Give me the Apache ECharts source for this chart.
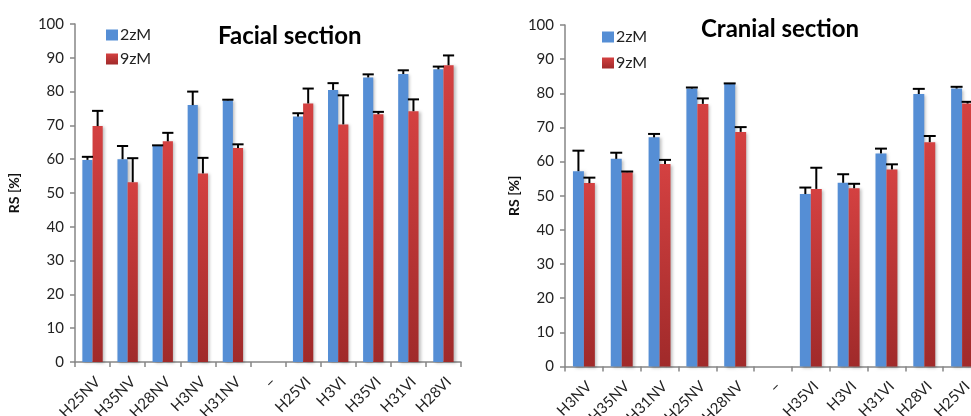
<!DOCTYPE html>
<html>
<head>
<meta charset="utf-8">
<style>
  html, body { margin: 0; padding: 0; background: #fff; overflow: hidden; }
  #chart { width: 1000px; height: 416px; }
</style>
<script src="https://cdn.jsdelivr.net/npm/echarts@6/dist/echarts.min.js"></script>
</head>
<body>
<div id="chart"></div>
<script>
// Facial section: categories, means and upper error (SD) per series
const facialCats = ['H25NV', 'H35NV', 'H28NV', 'H3NV', 'H31NV', '–', 'H25VI', 'H3VI', 'H35VI', 'H31VI', 'H28VI'];
const facial2zM = [59.8, 60.0, 63.9, 76.0, 77.4, null, 72.6, 80.5, 84.2, 85.2, 86.6];
const facial2zMErr = [0.9, 3.9, 0.2, 4.0, 0.2, null, 1.0, 2.0, 0.9, 1.1, 0.8];
const facial9zM = [69.8, 53.2, 65.3, 55.8, 63.3, null, 76.5, 70.3, 73.3, 74.2, 87.8];
const facial9zMErr = [4.5, 7.1, 2.5, 4.6, 1.1, null, 4.4, 8.6, 0.7, 3.5, 2.9];

// Cranial section
const cranialCats = ['H3NV', 'H35NV', 'H31NV', 'H25NV', 'H28NV', '–', 'H35VI', 'H3VI', 'H31VI', 'H28VI', 'H25VI'];
const cranial2zM = [57.2, 60.8, 67.1, 81.4, 82.7, null, 50.5, 53.8, 62.4, 79.8, 81.4];
const cranial2zMErr = [6.0, 1.8, 1.0, 0.3, 0.2, null, 1.9, 2.5, 1.4, 1.5, 0.5];
const cranial9zM = [53.7, 56.9, 59.3, 76.9, 68.7, null, 52.0, 52.2, 57.7, 65.7, 77.0];
const cranial9zMErr = [1.6, 0.2, 1.2, 1.6, 1.4, null, 6.2, 1.3, 1.5, 1.8, 0.5];

const yTicks = { min: 0, max: 100, interval: 10 };

const FONT = 'Lato';
const BAR_FRAC = 0.29; // bar width as a share of the category band
const blue = '#558ED5';
const red = new echarts.graphic.LinearGradient(0, 0, 0, 1, [
  { offset: 0, color: '#D44141' },
  { offset: 1, color: '#A02A2A' }
]);
const barShadow = { shadowBlur: 3, shadowOffsetX: 2, shadowOffsetY: 1, shadowColor: 'rgba(0,0,0,0.25)' };

function barSeries(name, values, color, axisIdx) {
  return {
    name: name, type: 'bar', data: values,
    xAxisIndex: axisIdx, yAxisIndex: axisIdx,
    barGap: '0%', barCategoryGap: '42%',
    itemStyle: Object.assign({ color: color }, barShadow),
    z: 2
  };
}

function errorSeries(values, errs, side, axisIdx) {
  const data = values.map((v, i) => (v == null ? null : [i, v, errs[i]])).filter(d => d);
  return {
    name: 'sd', type: 'custom', xAxisIndex: axisIdx, yAxisIndex: axisIdx, z: 3,
    data: data,
    renderItem: function (params, api) {
      const i = api.value(0), v = api.value(1), e = api.value(2);
      const base = api.coord([i, v]);
      const top = api.coord([i, v + e]);
      const band = api.size([1, 0])[0];
      const bw = band * BAR_FRAC;
      const cx = base[0] + side * bw / 2;
      const half = bw / 2 + 0.5;
      const style = { stroke: '#000', lineWidth: 2 };
      return {
        type: 'group',
        children: [
          { type: 'line', shape: { x1: cx, y1: base[1], x2: cx, y2: top[1] }, style: style },
          { type: 'line', shape: { x1: cx - half, y1: top[1], x2: cx + half, y2: top[1] }, style: style }
        ]
      };
    }
  };
}

function xAxis(cats, gridIdx) {
  return {
    type: 'category', gridIndex: gridIdx, data: cats,
    axisLine: { lineStyle: { color: '#868686', width: 1.5 } },
    axisTick: { show: true, length: 5, lineStyle: { color: '#868686', width: 1.5 } },
    axisLabel: { rotate: 45, fontFamily: FONT, fontSize: 15, color: '#222', margin: 12, verticalAlign: 'top' }
  };
}

function yAxis(gridIdx, nameGap) {
  return {
    type: 'value', gridIndex: gridIdx,
    min: yTicks.min, max: yTicks.max, interval: yTicks.interval,
    name: 'RS [%]', nameLocation: 'middle', nameGap: nameGap, nameRotate: 90,
    nameTextStyle: { fontFamily: FONT, fontSize: 14, fontWeight: 'bold', color: '#111' },
    axisLine: { show: true, lineStyle: { color: '#868686', width: 1.5 } },
    axisTick: { show: true, length: 5, lineStyle: { color: '#868686', width: 1.5 } },
    splitLine: { show: false },
    axisLabel: { fontFamily: FONT, fontSize: 15, color: '#222', margin: 11 }
  };
}

function legend(left, top, gap) {
  return {
    data: ['2zM', '9zM'], orient: 'vertical', left: left, top: top,
    itemWidth: 12, itemHeight: 11, itemGap: gap,
    textStyle: { fontFamily: FONT, fontSize: 16, color: '#222', padding: [0, 0, 0, -3] },
    icon: 'rect'
  };
}

const chart = echarts.init(document.getElementById('chart'), null, { renderer: 'canvas' });
chart.setOption({
  animation: false,
  title: [
    { text: 'Facial section', left: 213, top: 19, textStyle: { fontFamily: FONT, fontSize: 24, fontWeight: 'bold', color: '#000' } },
    { text: 'Cranial section', left: 696, top: 12, textStyle: { fontFamily: FONT, fontSize: 24, fontWeight: 'bold', color: '#000' } }
  ],
  legend: [legend(101, 22, 8), legend(597, 24, 10)],
  grid: [
    { left: 75, top: 24, width: 386, height: 338, containLabel: false, outerBoundsMode: 'none' },
    { left: 565, top: 25, width: 416, height: 341.5, containLabel: false, outerBoundsMode: 'none' }
  ],
  xAxis: [xAxis(facialCats, 0), xAxis(cranialCats, 1)],
  yAxis: [yAxis(0, 54), yAxis(1, 44)],
  series: [
    barSeries('2zM', facial2zM, blue, 0),
    barSeries('9zM', facial9zM, red, 0),
    barSeries('2zM', cranial2zM, blue, 1),
    barSeries('9zM', cranial9zM, red, 1),
    errorSeries(facial2zM, facial2zMErr, -1, 0),
    errorSeries(facial9zM, facial9zMErr, 1, 0),
    errorSeries(cranial2zM, cranial2zMErr, -1, 1),
    errorSeries(cranial9zM, cranial9zMErr, 1, 1)
  ]
});
</script>
</body>
</html>
